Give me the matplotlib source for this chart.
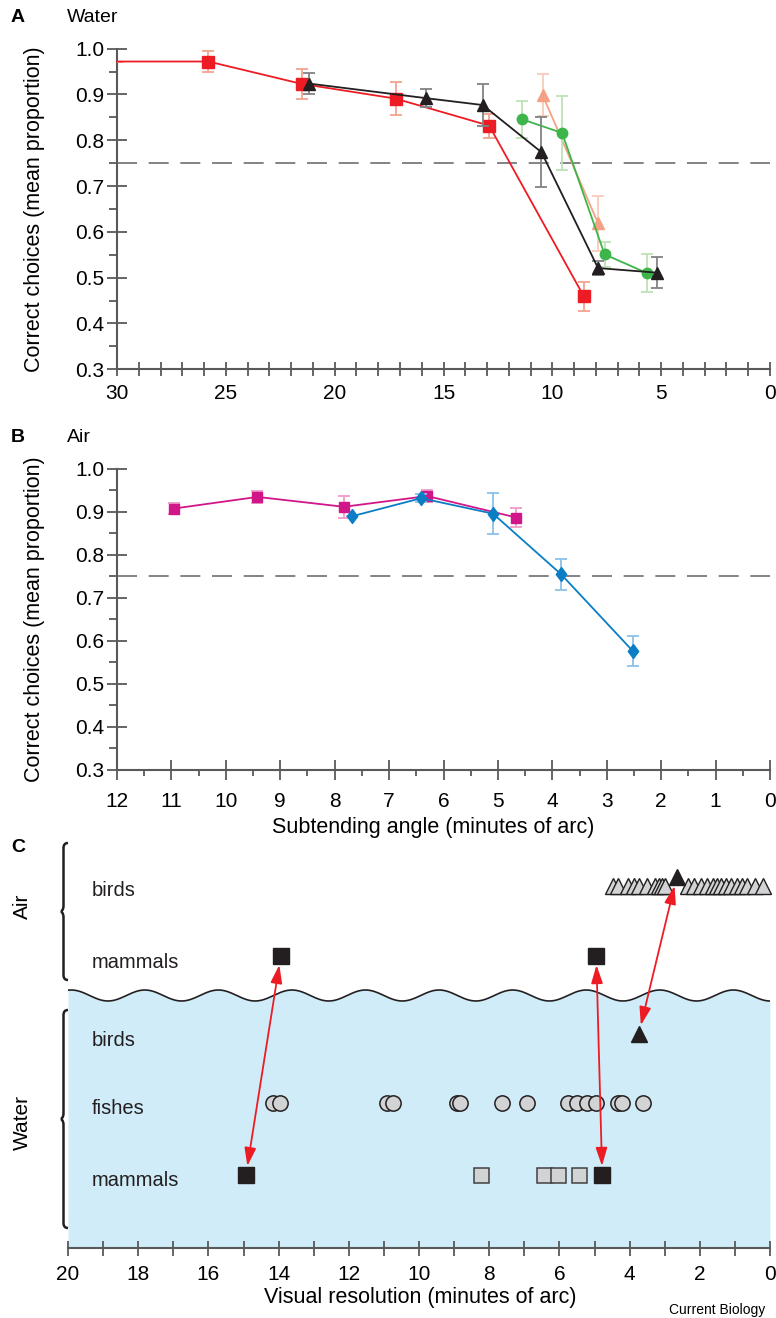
import numpy as np
import matplotlib
matplotlib.use("Agg")
import matplotlib.pyplot as plt
from matplotlib.path import Path
from matplotlib.patches import PathPatch

plt.rcParams['font.family'] = ['Liberation Sans', 'DejaVu Sans']

# ---------------- data ----------------
# Panel A (Water): subtending angle (min of arc) vs proportion correct
red_x = [30.0, 25.8, 21.5, 17.2, 12.9, 8.55]
red_y = [0.972, 0.972, 0.923, 0.891, 0.832, 0.459]
red_err = [0.0, 0.022, 0.033, 0.036, 0.026, 0.031]

blk_x = [21.2, 15.8, 13.2, 10.5, 7.9, 5.2]
blk_y = [0.924, 0.892, 0.877, 0.774, 0.521, 0.511]
blk_err = [0.022, 0.02, 0.046, 0.076, 0.016, 0.034]

sal_x = [10.45, 7.9]
sal_y = [0.899, 0.619]
sal_err = [0.045, 0.06]

grn_x = [11.4, 9.55, 7.6, 5.65]
grn_y = [0.846, 0.816, 0.551, 0.51]
grn_err = [0.04, 0.08, 0.028, 0.041]

# Panel B (Air)
mag_x = [10.95, 9.42, 7.83, 6.30, 4.66]
mag_y = [0.908, 0.935, 0.912, 0.937, 0.887]
mag_err = [0.012, 0.014, 0.026, 0.014, 0.022]

blu_x = [7.68, 6.41, 5.09, 3.84, 2.52]
blu_y = [0.890, 0.932, 0.896, 0.755, 0.576]
blu_err = [0.0, 0.01, 0.047, 0.036, 0.034]

chance = 0.75

# Panel C: visual resolution (min of arc)
air_birds = [4.47, 4.33, 4.05, 3.87, 3.73, 3.50, 3.28, 3.16, 3.08, 2.99, 2.34, 2.17,
             1.97, 1.79, 1.62, 1.51, 1.40, 1.25, 1.11, 0.94, 0.80, 0.66, 0.43, 0.20]
air_bird_focal = [2.66]
air_mammals = [13.94, 4.95]
water_birds = [3.74]
fishes = [14.15, 13.96, 10.92, 10.73, 8.93, 8.83, 7.64, 6.93, 5.76, 5.51, 5.21,
          4.97, 4.34, 4.21, 3.63]
water_mammals_other = [8.24, 6.44, 6.03, 5.44]
water_mammals_focal = [14.93, 4.78]

row_labels = ['birds', 'mammals', 'birds', 'fishes', 'mammals']

# ---------------- style ----------------
W, H = 776, 1318
C_RED, C_RED_E = '#ED1C24', '#F5A38F'
C_BLK, C_BLK_E = '#231F20', '#808285'
C_SAL, C_SAL_E = '#F4A185', '#F9CBB9'
C_GRN, C_GRN_E = '#3DB54A', '#BDE2B6'
C_MAG, C_MAG_E = '#D1168A', '#EE9CC8'
C_BLU, C_BLU_E = '#0A7EC5', '#8CC0E9'
C_AX = '#58595B'
C_GRAY = '#D1D3D4'
C_WATER = '#D0ECF9'

DIAMOND = Path([(0, 1), (0.75, 0), (0, -1), (-0.75, 0), (0, 1)],
               [Path.MOVETO, Path.LINETO, Path.LINETO, Path.LINETO, Path.CLOSEPOLY])

fig = plt.figure(figsize=(W / 100, H / 100), dpi=100)


def rect(l, t, r, b):
    return [l / W, 1 - b / H, (r - l) / W, (b - t) / H]


def style_axes(ax):
    for s in ['top', 'right']:
        ax.spines[s].set_visible(False)
    for s in ['left', 'bottom']:
        ax.spines[s].set_color(C_AX)
        ax.spines[s].set_linewidth(1.5)
    ax.set_facecolor('none')


def series(ax, x, y, e, col, ecol, marker, ms, lw=1.3, markevery=None, z=3):
    ax.errorbar(x, y, yerr=e, fmt='none', ecolor=ecol, elinewidth=1.3,
                capsize=4.3, capthick=1.3, zorder=z)
    ax.plot(x, y, color=col, lw=lw, marker=marker, ms=ms, mfc=col, mec=col,
            markevery=markevery, zorder=z + 0.5, clip_on=False)


def y_ticks(ax):
    ax.set_ylim(0.3, 1.0)
    maj = np.round(np.arange(0.3, 1.01, 0.1), 2)
    ax.set_yticks(maj)
    ax.set_yticklabels([f'{v:.1f}' for v in maj])
    ax.set_yticks(np.round(np.arange(0.35, 1.0, 0.1), 2), minor=True)
    ax.tick_params(axis='y', which='major', direction='inout', length=14.4,
                   width=1.3, color=C_AX, labelsize=15, pad=2)
    ax.tick_params(axis='y', which='minor', direction='out', length=5.8,
                   width=1.3, color=C_AX)
    ax.axhline(chance, color='#6D6E71', lw=1.2, dashes=(12, 7), zorder=1)


# ---------------- Panel A ----------------
axA = fig.add_axes(rect(117, 48.7, 770, 369.3))
style_axes(axA)
axA.set_xlim(30, 0)
y_ticks(axA)
xt = list(range(0, 31))
axA.set_xticks(xt)
axA.set_xticklabels([str(v) if v % 5 == 0 else '' for v in xt])
axA.tick_params(axis='x', direction='inout', length=9.4, width=1.3, color=C_AX,
                labelsize=15, pad=6)
series(axA, red_x, red_y, red_err, C_RED, C_RED_E, 's', 8.8, markevery=list(range(1, len(red_x))), z=3)
series(axA, sal_x, sal_y, sal_err, C_SAL, C_SAL_E, '^', 9, z=4)
series(axA, grn_x, grn_y, grn_err, C_GRN, C_GRN_E, 'o', 7.5, z=5)
series(axA, blk_x, blk_y, blk_err, C_BLK, C_BLK_E, '^', 9, z=6)

# ---------------- Panel B ----------------
axB = fig.add_axes(rect(117, 469, 770, 769.6))
style_axes(axB)
axB.set_xlim(12, 0)
y_ticks(axB)
axB.set_xticks(range(0, 13))
axB.set_xticks(np.arange(0.5, 12, 1.0), minor=True)
axB.tick_params(axis='x', which='major', direction='inout', length=14, width=1.3,
                color=C_AX, labelsize=15, pad=9)
axB.tick_params(axis='x', which='minor', direction='out', length=4.5, width=1.3,
                color=C_AX)
series(axB, mag_x, mag_y, mag_err, C_MAG, C_MAG_E, 's', 6.5, z=3)
series(axB, blu_x, blu_y, blu_err, C_BLU, C_BLU_E, DIAMOND, 10, z=4)

# ---------------- Panel C ----------------
axC = fig.add_axes(rect(68, 840, 770, 1248))
style_axes(axC)
axC.spines['left'].set_visible(False)
axC.set_xlim(20, 0)
axC.set_ylim(0, 408)
axC.set_yticks([])
axC.set_xticks(range(0, 21))
axC.set_xticklabels([str(v) if v % 2 == 0 else '' for v in range(0, 21)])
axC.tick_params(axis='x', direction='inout', length=10.8, width=1.3, color=C_AX,
                labelsize=15, pad=7)

# rows (vertical placement within panel C)
y_air_birds, y_air_focal, y_air_mam = 362, 371, 292
y_w_birds, y_fish, y_w_mam = 214, 145, 73
wave_mid, wave_amp, wave_period, wave_trough = 252.5, 5.5, 2.096, 18.86

xw = np.linspace(20, 0, 800)
yw = wave_mid - wave_amp * np.cos(2 * np.pi * (xw - wave_trough) / wave_period)
axC.fill_between(xw, 0, yw, color=C_WATER, lw=0, zorder=0)
axC.plot(xw, yw, color=C_BLK, lw=1.2, zorder=1)

mk = dict(linestyle='none', clip_on=False)
axC.plot(air_birds, [y_air_birds] * len(air_birds), marker='^', ms=12,
         mfc=C_GRAY, mec=C_BLK, mew=1.0, zorder=3, **mk)
axC.plot(air_bird_focal, [y_air_focal], marker='^', ms=12, mfc=C_BLK, mec=C_BLK,
         zorder=4, **mk)
axC.plot(air_mammals, [y_air_mam] * len(air_mammals), marker='s', ms=11,
         mfc=C_BLK, mec=C_BLK, zorder=4, **mk)
axC.plot(water_birds, [y_w_birds], marker='^', ms=12, mfc=C_BLK, mec=C_BLK,
         zorder=4, **mk)
for fx in fishes:
    axC.plot([fx], [y_fish], marker='o', ms=11, mfc=C_GRAY, mec=C_BLK, mew=1.1,
             zorder=3, **mk)
axC.plot(water_mammals_other, [y_w_mam] * len(water_mammals_other), marker='s',
         ms=10.8, mfc=C_GRAY, mec='#414042', mew=1.1, zorder=3, **mk)
axC.plot(water_mammals_focal, [y_w_mam] * len(water_mammals_focal), marker='s',
         ms=11.2, mfc=C_BLK, mec=C_BLK, zorder=4, **mk)

arrow_kw = dict(arrowstyle='<|-|>,head_length=1.1,head_width=0.35',
                color=C_RED, lw=1.3)
pairs = [((air_mammals[0], y_air_mam), (water_mammals_focal[0], y_w_mam)),
         ((air_mammals[1], y_air_mam), (water_mammals_focal[1], y_w_mam)),
         ((air_bird_focal[0], y_air_focal), (water_birds[0], y_w_birds))]
for (p_air, p_w) in pairs:
    axC.annotate('', xy=p_w, xytext=p_air,
                 arrowprops=dict(shrinkA=6.5, shrinkB=6.5, **arrow_kw), zorder=5)

row_ys = [y_air_birds - 5, y_air_mam - 7, y_w_birds - 6, y_fish - 6, y_w_mam - 6]
for lab, ry in zip(row_labels, row_ys):
    axC.text(19.32, ry, lab, fontsize=14.5, ha='left', va='center', color=C_BLK)

# ---------------- overlay texts ----------------
ov = fig.add_axes([0, 0, 1, 1])
ov.set_xlim(0, W)
ov.set_ylim(H, 0)
ov.axis('off')
ov.patch.set_alpha(0)

ov.text(18, 18, 'A', fontsize=14, fontweight='bold', ha='center', va='center')
ov.text(67, 18, 'Water', fontsize=14, ha='left', va='center')
ov.text(18, 437, 'B', fontsize=14, fontweight='bold', ha='center', va='center')
ov.text(67, 437, 'Air', fontsize=14, ha='left', va='center')
ov.text(18, 847, 'C', fontsize=14, fontweight='bold', ha='center', va='center')

ov.text(35, 209, 'Correct choices (mean proportion)', fontsize=15.5, rotation=90,
        ha='center', va='center')
ov.text(35, 619, 'Correct choices (mean proportion)', fontsize=15.5, rotation=90,
        ha='center', va='center')
ov.text(433, 828, 'Subtending angle (minutes of arc)', fontsize=15.5,
        ha='center', va='center')
ov.text(420, 1298, 'Visual resolution (minutes of arc)', fontsize=15.5,
        ha='center', va='center')
ov.text(765, 1310, 'Current Biology', fontsize=10, ha='right', va='center')

ov.text(22, 906, 'Air', fontsize=15, rotation=90, ha='center', va='center')
ov.text(22, 1123, 'Water', fontsize=15, rotation=90, ha='center', va='center')


def brace(top, bot, xr=68, xl=63.5, xt=61):
    mid = (top + bot) / 2
    verts = [(xr, top), (xl, top), (xl, top + 5),
             (xl, mid - 6),
             (xl, mid - 1), (xt, mid), (xt, mid),
             (xt, mid), (xl, mid + 1), (xl, mid + 6),
             (xl, bot - 5),
             (xl, bot), (xr, bot)]
    codes = [Path.MOVETO, Path.CURVE3, Path.CURVE3,
             Path.LINETO,
             Path.CURVE4, Path.CURVE4, Path.CURVE4,
             Path.CURVE4, Path.CURVE4, Path.CURVE4,
             Path.LINETO,
             Path.CURVE3, Path.CURVE3]
    ov.add_patch(PathPatch(Path(verts, codes), fill=False, lw=1.8, ec=C_BLK))


brace(843, 980)
brace(1010, 1228)

fig.savefig('out.png', dpi=100)
